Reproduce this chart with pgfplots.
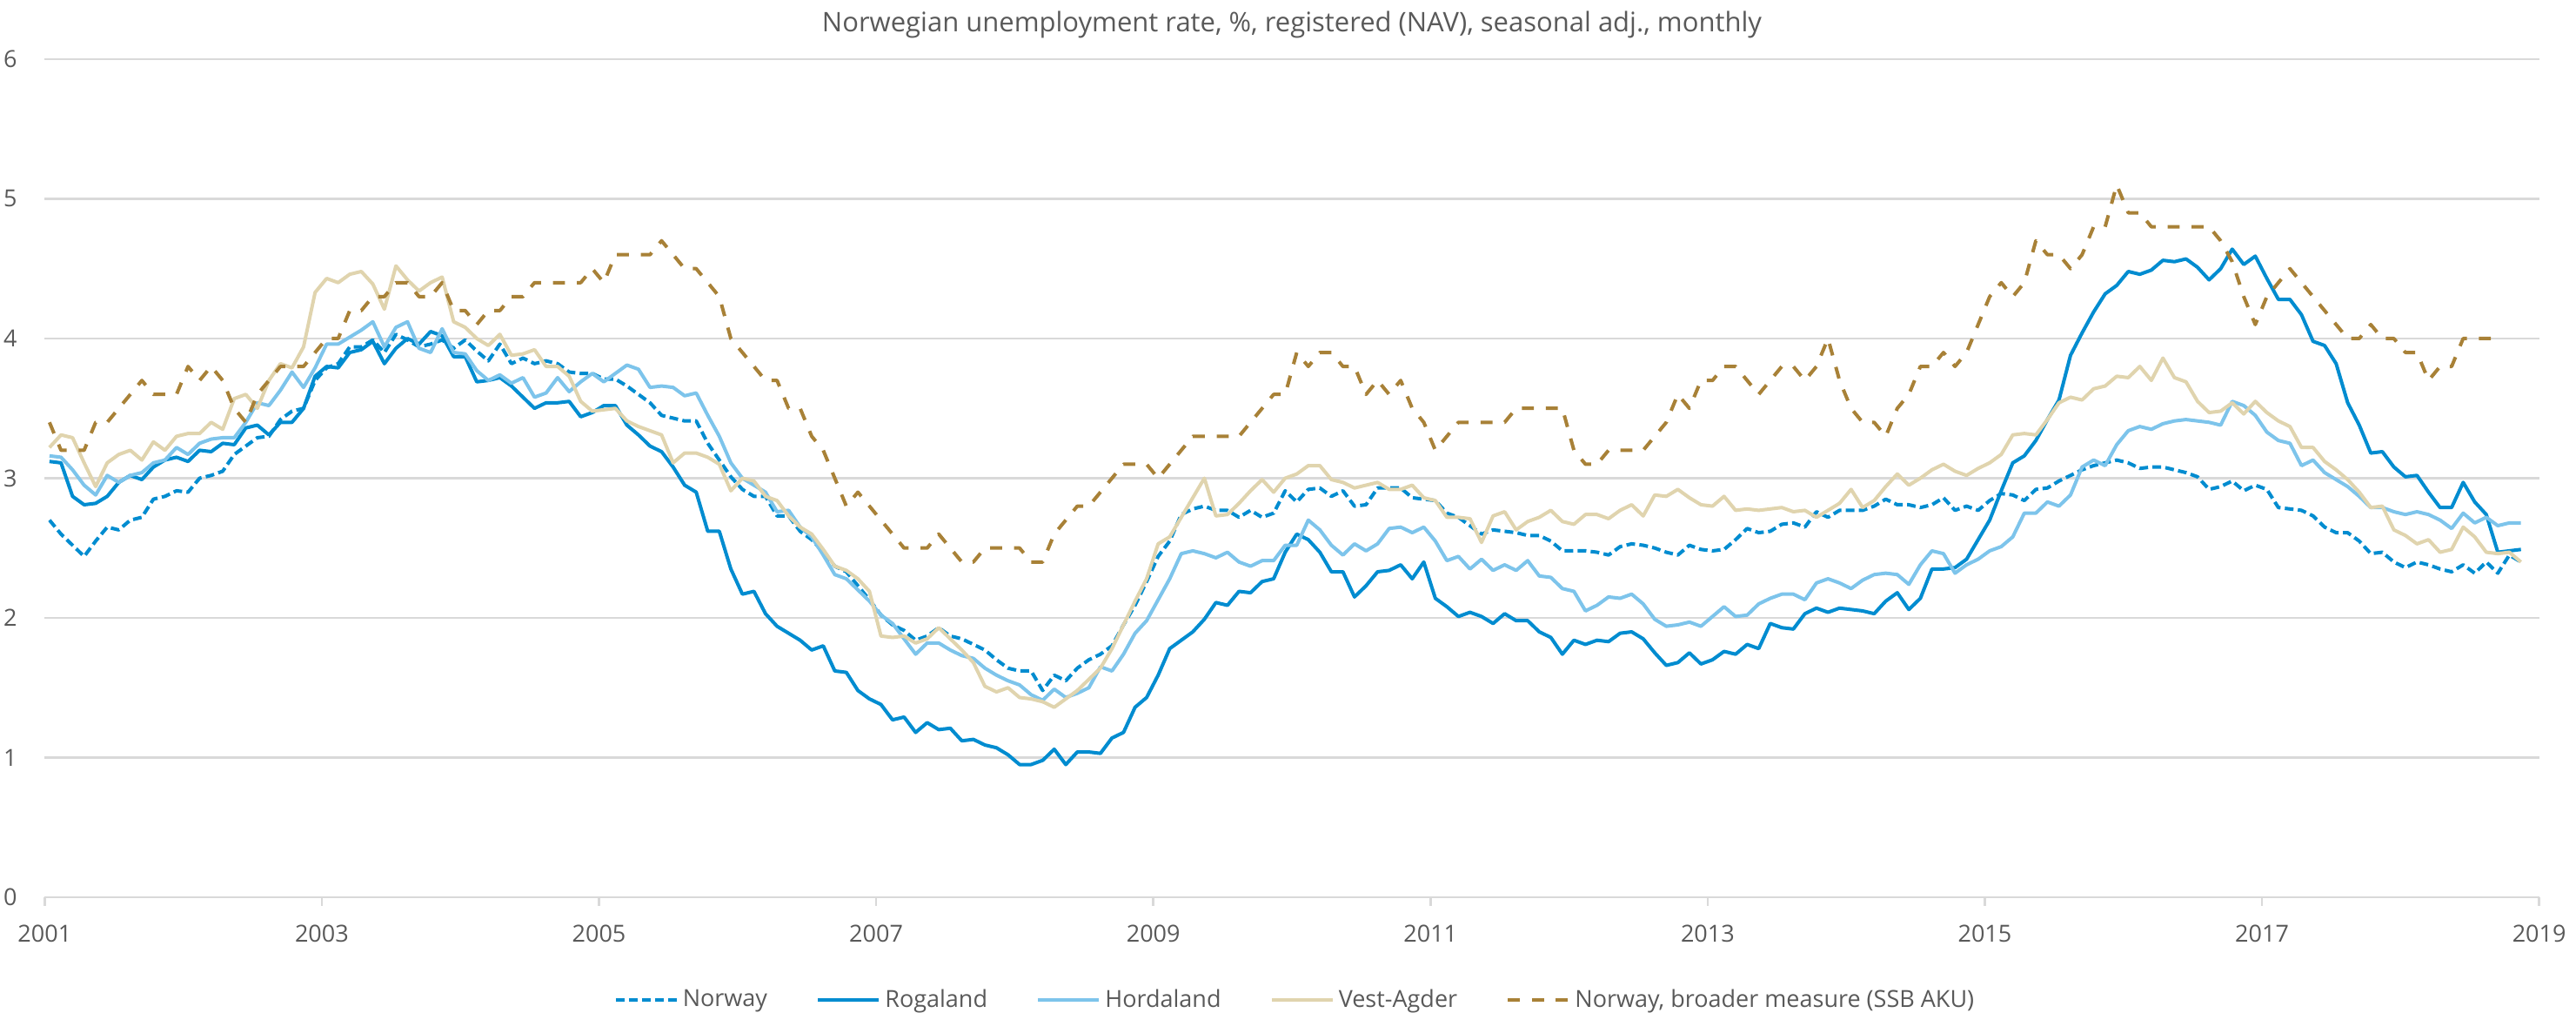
\documentclass[border=0pt]{standalone}
\usepackage{pgfplots}
\usepackage{pgfplotstable}
\pgfplotsset{compat=1.18}
\usepackage{fontspec}
\setmainfont{Open Sans}
\definecolor{normblue}{RGB}{0,140,208}
\definecolor{hordblue}{RGB}{125,196,235}
\definecolor{vabeige}{RGB}{224,212,174}
\definecolor{akugold}{RGB}{168,129,55}
\definecolor{txtgray}{RGB}{89,89,89}
\definecolor{gridgray}{RGB}{217,217,217}
\pgfplotstableread{
m nor rog hor va aku
0 2.70 3.12 3.16 3.22 3.4
1 2.60 3.11 3.15 3.31 3.2
2 2.52 2.87 3.06 3.29 3.2
3 2.44 2.81 2.95 3.11 3.2
4 2.55 2.82 2.88 2.94 3.4
5 2.65 2.87 3.02 3.11 3.4
6 2.63 2.97 2.97 3.17 3.5
7 2.70 3.02 3.02 3.20 3.6
8 2.72 2.99 3.04 3.13 3.7
9 2.85 3.08 3.11 3.26 3.6
10 2.87 3.13 3.13 3.20 3.6
11 2.91 3.15 3.22 3.30 3.6
12 2.90 3.12 3.17 3.32 3.8
13 3.00 3.20 3.25 3.32 3.7
14 3.02 3.19 3.28 3.40 3.8
15 3.05 3.25 3.29 3.35 3.7
16 3.17 3.24 3.29 3.57 3.5
17 3.23 3.36 3.40 3.60 3.4
18 3.29 3.38 3.54 3.50 3.6
19 3.30 3.31 3.52 3.70 3.7
20 3.42 3.40 3.63 3.82 3.8
21 3.48 3.40 3.76 3.79 3.8
22 3.50 3.50 3.65 3.94 3.8
23 3.70 3.73 3.79 4.33 3.9
24 3.79 3.80 3.96 4.43 4.0
25 3.82 3.79 3.96 4.40 4.0
26 3.94 3.90 4.01 4.46 4.2
27 3.94 3.92 4.06 4.48 4.2
28 3.99 3.98 4.12 4.39 4.3
29 3.90 3.82 3.94 4.21 4.3
30 4.03 3.93 4.08 4.52 4.4
31 3.99 4.00 4.12 4.42 4.4
32 3.94 3.96 3.93 4.34 4.3
33 3.96 4.05 3.90 4.40 4.3
34 3.99 4.02 4.07 4.44 4.4
35 3.93 3.87 3.90 4.12 4.2
36 3.99 3.87 3.89 4.08 4.2
37 3.91 3.69 3.77 4.00 4.1
38 3.84 3.70 3.70 3.95 4.2
39 3.96 3.72 3.74 4.03 4.2
40 3.82 3.66 3.68 3.88 4.3
41 3.86 3.58 3.72 3.89 4.3
42 3.82 3.50 3.58 3.92 4.4
43 3.84 3.54 3.61 3.80 4.4
44 3.82 3.54 3.72 3.80 4.4
45 3.76 3.55 3.62 3.73 4.4
46 3.75 3.44 3.69 3.55 4.4
47 3.75 3.47 3.75 3.48 4.5
48 3.71 3.52 3.69 3.49 4.4
49 3.71 3.52 3.75 3.50 4.6
50 3.66 3.38 3.81 3.41 4.6
51 3.60 3.31 3.78 3.37 4.6
52 3.54 3.23 3.65 3.34 4.6
53 3.45 3.19 3.66 3.31 4.7
54 3.43 3.08 3.65 3.11 4.6
55 3.41 2.95 3.59 3.18 4.5
56 3.41 2.90 3.61 3.18 4.5
57 3.25 2.62 3.45 3.15 4.4
58 3.13 2.62 3.30 3.10 4.3
59 3.01 2.35 3.11 2.91 4.0
60 2.92 2.17 3.00 3.00 3.9
61 2.87 2.19 2.95 2.98 3.8
62 2.87 2.03 2.90 2.87 3.7
63 2.73 1.94 2.76 2.84 3.7
64 2.73 1.89 2.77 2.73 3.5
65 2.62 1.84 2.65 2.65 3.5
66 2.56 1.77 2.58 2.60 3.3
67 2.47 1.80 2.45 2.49 3.2
68 2.37 1.62 2.31 2.37 3.0
69 2.33 1.61 2.28 2.34 2.8
70 2.23 1.48 2.20 2.28 2.9
71 2.13 1.42 2.12 2.19 2.8
72 2.02 1.38 2.02 1.87 2.7
73 1.95 1.27 1.96 1.86 2.6
74 1.91 1.29 1.85 1.87 2.5
75 1.84 1.18 1.74 1.82 2.5
76 1.87 1.25 1.82 1.85 2.5
77 1.93 1.20 1.82 1.93 2.6
78 1.87 1.21 1.77 1.85 2.5
79 1.85 1.12 1.73 1.77 2.4
80 1.81 1.13 1.71 1.68 2.4
81 1.77 1.09 1.64 1.51 2.5
82 1.70 1.07 1.59 1.47 2.5
83 1.64 1.02 1.55 1.50 2.5
84 1.62 0.95 1.52 1.43 2.5
85 1.62 0.95 1.45 1.42 2.4
86 1.48 0.98 1.41 1.40 2.4
87 1.59 1.06 1.49 1.36 2.6
88 1.55 0.95 1.43 1.42 2.7
89 1.64 1.04 1.46 1.48 2.8
90 1.70 1.04 1.50 1.56 2.8
91 1.74 1.03 1.65 1.64 2.9
92 1.80 1.14 1.62 1.78 3.0
93 1.95 1.18 1.74 1.95 3.1
94 2.09 1.36 1.89 2.12 3.1
95 2.26 1.43 1.98 2.28 3.1
96 2.44 1.59 2.13 2.53 3.0
97 2.55 1.78 2.28 2.58 3.1
98 2.74 1.84 2.46 2.72 3.2
99 2.78 1.90 2.48 2.86 3.3
100 2.80 1.99 2.46 3.00 3.3
101 2.77 2.11 2.43 2.73 3.3
102 2.77 2.09 2.47 2.74 3.3
103 2.72 2.19 2.40 2.82 3.3
104 2.77 2.18 2.37 2.91 3.4
105 2.72 2.26 2.41 2.99 3.5
106 2.75 2.28 2.41 2.90 3.6
107 2.91 2.47 2.52 3.00 3.6
108 2.83 2.60 2.52 3.03 3.9
109 2.92 2.56 2.70 3.09 3.8
110 2.93 2.47 2.63 3.09 3.9
111 2.87 2.33 2.52 2.99 3.9
112 2.91 2.33 2.45 2.97 3.8
113 2.80 2.15 2.53 2.93 3.8
114 2.81 2.23 2.48 2.95 3.6
115 2.93 2.33 2.53 2.97 3.7
116 2.93 2.34 2.64 2.92 3.6
117 2.93 2.38 2.65 2.92 3.7
118 2.86 2.28 2.61 2.95 3.5
119 2.85 2.40 2.65 2.86 3.4
120 2.84 2.14 2.55 2.84 3.2
121 2.75 2.08 2.41 2.72 3.3
122 2.72 2.01 2.44 2.72 3.4
123 2.66 2.04 2.35 2.71 3.4
124 2.60 2.01 2.42 2.54 3.4
125 2.63 1.96 2.34 2.73 3.4
126 2.62 2.03 2.38 2.76 3.4
127 2.61 1.98 2.34 2.63 3.5
128 2.59 1.98 2.41 2.69 3.5
129 2.59 1.90 2.30 2.72 3.5
130 2.55 1.86 2.29 2.77 3.5
131 2.48 1.74 2.21 2.69 3.5
132 2.48 1.84 2.19 2.67 3.2
133 2.48 1.81 2.05 2.74 3.1
134 2.47 1.84 2.09 2.74 3.1
135 2.45 1.83 2.15 2.71 3.2
136 2.51 1.89 2.14 2.77 3.2
137 2.53 1.90 2.17 2.81 3.2
138 2.52 1.85 2.10 2.73 3.2
139 2.50 1.75 1.99 2.88 3.3
140 2.47 1.66 1.94 2.87 3.4
141 2.45 1.68 1.95 2.92 3.6
142 2.52 1.75 1.97 2.86 3.5
143 2.49 1.67 1.94 2.81 3.7
144 2.48 1.70 2.01 2.80 3.7
145 2.49 1.76 2.08 2.87 3.8
146 2.56 1.74 2.01 2.77 3.8
147 2.64 1.81 2.02 2.78 3.7
148 2.61 1.78 2.10 2.77 3.6
149 2.62 1.96 2.14 2.78 3.7
150 2.67 1.93 2.17 2.79 3.8
151 2.68 1.92 2.17 2.76 3.8
152 2.65 2.03 2.13 2.77 3.7
153 2.76 2.07 2.25 2.72 3.8
154 2.72 2.04 2.28 2.77 4.0
155 2.77 2.07 2.25 2.82 3.7
156 2.77 2.06 2.21 2.92 3.5
157 2.77 2.05 2.27 2.79 3.4
158 2.80 2.03 2.31 2.84 3.4
159 2.85 2.12 2.32 2.94 3.3
160 2.81 2.18 2.31 3.03 3.5
161 2.81 2.06 2.24 2.95 3.6
162 2.79 2.14 2.38 3.00 3.8
163 2.81 2.35 2.48 3.06 3.8
164 2.86 2.35 2.46 3.10 3.9
165 2.77 2.36 2.32 3.05 3.8
166 2.80 2.42 2.38 3.02 3.9
167 2.77 2.56 2.42 3.07 4.1
168 2.84 2.70 2.48 3.11 4.3
169 2.89 2.91 2.51 3.17 4.4
170 2.88 3.11 2.58 3.31 4.3
171 2.84 3.16 2.75 3.32 4.4
172 2.92 3.27 2.75 3.31 4.7
173 2.93 3.42 2.83 3.42 4.6
174 2.98 3.56 2.80 3.54 4.6
175 3.02 3.88 2.88 3.58 4.5
176 3.06 4.04 3.08 3.56 4.6
177 3.09 4.19 3.13 3.64 4.8
178 3.11 4.32 3.09 3.66 4.8
179 3.13 4.38 3.24 3.73 5.1
180 3.11 4.48 3.34 3.72 4.9
181 3.07 4.46 3.37 3.80 4.9
182 3.08 4.49 3.35 3.70 4.8
183 3.08 4.56 3.39 3.86 4.8
184 3.06 4.55 3.41 3.72 4.8
185 3.04 4.57 3.42 3.69 4.8
186 3.01 4.51 3.41 3.55 4.8
187 2.92 4.42 3.40 3.47 4.8
188 2.94 4.50 3.38 3.48 4.7
189 2.98 4.64 3.55 3.54 4.55
190 2.91 4.53 3.52 3.46 4.3
191 2.95 4.59 3.45 3.55 4.1
192 2.92 4.43 3.33 3.47 4.3
193 2.79 4.28 3.27 3.41 4.4
194 2.78 4.28 3.25 3.37 4.5
195 2.77 4.17 3.09 3.22 4.4
196 2.73 3.98 3.13 3.22 4.3
197 2.65 3.95 3.04 3.12 4.2
198 2.61 3.82 2.99 3.06 4.1
199 2.61 3.54 2.94 2.99 4.0
200 2.55 3.38 2.87 2.90 4.0
201 2.46 3.18 2.79 2.79 4.1
202 2.47 3.19 2.79 2.80 4.0
203 2.40 3.08 2.76 2.63 4.0
204 2.36 3.01 2.74 2.59 3.9
205 2.40 3.02 2.76 2.53 3.9
206 2.38 2.90 2.74 2.56 3.7
207 2.35 2.79 2.70 2.47 3.8
208 2.33 2.79 2.64 2.49 3.8
209 2.38 2.97 2.75 2.65 4.0
210 2.32 2.83 2.68 2.58 4.0
211 2.40 2.74 2.72 2.47 4.0
212 2.32 2.47 2.66 2.46 4.0
213 2.45 2.48 2.68 2.47 nan
214 2.40 2.49 2.68 2.40 nan
}\datatable
\begin{document}
\begin{tikzpicture}
\path[use as bounding box] (-20.52pt,-53.2pt) rectangle (1163.88pt,412.4pt);
\begin{axis}[
  at={(0,0)}, anchor=south west,
  scale only axis,
  width=1146.96pt, height=385.2pt,
  xmin=0, xmax=216, ymin=0, ymax=6,
  axis x line*=bottom, axis y line*=left,
  y axis line style={draw=none},
  x axis line style={draw=gridgray, line width=1pt},
  ytick={0,1,...,6},
  ytick style={draw=none},
  xtick={0,24,...,216},
  xticklabels={2001,2003,2005,2007,2009,2011,2013,2015,2017,2019},
  xtick align=outside,
  xtick style={draw=gridgray, line width=1pt},
  major tick length=4pt,
  ymajorgrids,
  grid style={draw=gridgray, line width=1pt},
  /pgf/number format/assume math mode=true,
  yticklabel style={inner sep=0pt, anchor=east, xshift=-12.5pt, font=\fontsize{10.8}{13}\selectfont, text=txtgray},
  xticklabel style={inner sep=0pt, anchor=north, yshift=-8.4pt, font=\fontsize{10.8}{13}\selectfont, text=txtgray},
  title={Norwegian unemployment rate, \%, registered (NAV), seasonal adj., monthly},
  title style={at={(0.5,1)}, anchor=base, yshift=6.6pt, inner sep=0pt, font=\fontsize{12.4}{15}\selectfont, text=txtgray},
  legend columns=5,
  legend cell align=left,
  legend style={draw=none, fill=none, at={(0.5,0)}, anchor=center, yshift=-47.2pt, xshift=2pt,
    font=\fontsize{10.8}{13}\selectfont, text=txtgray,
    /tikz/every even column/.append style={column sep=20.5pt}},
  legend image code/.code={\draw[#1] (0pt,0pt) -- (28pt,0pt);},
  every axis plot/.append style={line width=1.6pt, line join=round},
]
\addplot[normblue, dash pattern=on 4pt off 2pt] table[x expr=\thisrow{m}+0.42, y=nor] {\datatable};
\addlegendentry{Norway}
\addplot[normblue] table[x expr=\thisrow{m}+0.42, y=rog] {\datatable};
\addlegendentry{Rogaland}
\addplot[hordblue] table[x expr=\thisrow{m}+0.42, y=hor] {\datatable};
\addlegendentry{Hordaland}
\addplot[vabeige] table[x expr=\thisrow{m}+0.42, y=va] {\datatable};
\addlegendentry{Vest-Agder}
\addplot[akugold, dash pattern=on 5.5pt off 5.5pt] table[x expr=\thisrow{m}+0.42, y=aku] {\datatable};
\addlegendentry{Norway, broader measure (SSB AKU)}
\end{axis}
\end{tikzpicture}
\end{document}
